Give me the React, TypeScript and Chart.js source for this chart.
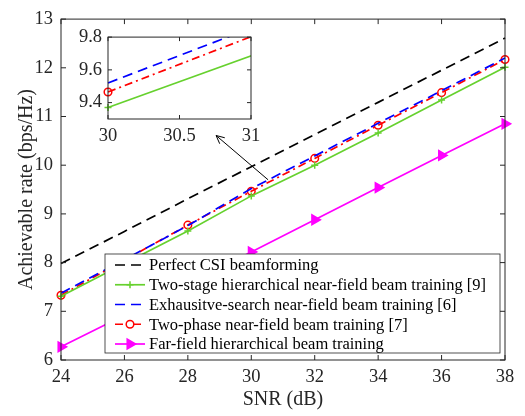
import React, { useEffect, useRef } from 'react';
import { Chart, registerables } from 'chart.js';

Chart.register(...registerables);

// ---------------- data ----------------
const SNR_DB = [24, 26, 28, 30, 32, 34, 36, 38];
const PERFECT_CSI = [7.98, 8.64, 9.31, 9.97, 10.63, 11.29, 11.95, 12.61];
const TWO_STAGE = [7.31, 7.98, 8.65, 9.37, 10.0, 10.66, 11.34, 12.01];
const EXHAUSTIVE = [7.37, 8.06, 8.76, 9.52, 10.19, 10.86, 11.53, 12.2];
const TWO_PHASE = [7.33, 8.05, 8.77, 9.465, 10.14, 10.82, 11.49, 12.17];
const FAR_FIELD = [6.27, 6.92, 7.57, 8.22, 8.88, 9.54, 10.2, 10.85];

const SERIES_LABELS = [
  'Perfect CSI beamforming',
  'Two-stage hierarchical near-field beam training [9]',
  'Exhausitve-search near-field beam training [6]',
  'Two-phase near-field beam training [7]',
  'Far-field hierarchical beam training',
];
const SERIES_VALUES = [PERFECT_CSI, TWO_STAGE, EXHAUSTIVE, TWO_PHASE, FAR_FIELD];

const X_RANGE = [24, 38];
const Y_RANGE = [6, 13];
const X_TICKS = [24, 26, 28, 30, 32, 34, 36, 38];
const Y_TICKS = [6, 7, 8, 9, 10, 11, 12, 13];

const INSET_X_RANGE = [30, 31];
const INSET_Y_RANGE = [9.3, 9.8];
const INSET_X_TICKS = [30, 30.5, 31];
const INSET_Y_TICKS = [9.4, 9.6, 9.8];

const ARROW_FROM = [30.53, 9.7];
const ARROW_TO = [28.89, 10.61];

const X_TITLE = 'SNR (dB)';
const Y_TITLE = 'Achievable rate (bps/Hz)';

// ---------------- styles ----------------
const FONT = 'Liberation Serif';
const AXIS_COLOR = '#262626';

type Style = {
  color: string;
  dash: number[];
  marker: null | 'cross' | 'circle' | 'triangle';
  radius: number;
  fill: string;
};

const STYLES: Style[] = [
  { color: '#000000', dash: [10, 6], marker: null, radius: 0, fill: 'transparent' },
  { color: '#66d12e', dash: [], marker: 'cross', radius: 3.5, fill: 'transparent' },
  { color: '#0000ff', dash: [10, 6], marker: null, radius: 0, fill: 'transparent' },
  { color: '#ff0000', dash: [8, 4, 2, 4], marker: 'circle', radius: 3.8, fill: 'transparent' },
  { color: '#ff00ff', dash: [], marker: 'triangle', radius: 5.6, fill: '#ff00ff' },
];

function buildDatasets(minX: number, clip: any) {
  return SERIES_VALUES.map((vals, i) => {
    const st = STYLES[i];
    return {
      label: SERIES_LABELS[i],
      data: SNR_DB.map((x, j) => ({ x, y: vals[j] })).filter((p) => p.x >= minX),
      borderColor: st.color,
      backgroundColor: st.fill,
      borderWidth: 1.7,
      borderDash: st.dash,
      pointStyle: st.marker === null ? false : st.marker,
      pointRadius: st.radius,
      pointHoverRadius: st.radius,
      pointBorderWidth: 1.5,
      pointBorderColor: st.color,
      pointBackgroundColor: st.fill,
      pointRotation: st.marker === 'triangle' ? 90 : 0,
      tension: 0,
      fill: false,
      clip,
    } as any;
  });
}

function makeBoxPlugin(tickLen: number, whiteBg: boolean) {
  return {
    id: 'matlabBox',
    beforeDatasetsDraw(chart: any) {
      if (!whiteBg) return;
      const { ctx, chartArea: a } = chart;
      ctx.save();
      ctx.fillStyle = '#ffffff';
      ctx.fillRect(a.left, a.top, a.right - a.left, a.bottom - a.top);
      ctx.restore();
    },
    afterDatasetsDraw(chart: any) {
      const { ctx, chartArea: a, scales } = chart;
      ctx.save();
      ctx.strokeStyle = AXIS_COLOR;
      ctx.lineWidth = 1;
      ctx.setLineDash([]);
      ctx.strokeRect(a.left, a.top, a.right - a.left, a.bottom - a.top);
      ctx.beginPath();
      for (const t of scales.x.ticks) {
        const px = scales.x.getPixelForValue(t.value);
        ctx.moveTo(px, a.bottom);
        ctx.lineTo(px, a.bottom - tickLen);
        ctx.moveTo(px, a.top);
        ctx.lineTo(px, a.top + tickLen);
      }
      for (const t of scales.y.ticks) {
        const py = scales.y.getPixelForValue(t.value);
        ctx.moveTo(a.left, py);
        ctx.lineTo(a.left + tickLen, py);
        ctx.moveTo(a.right, py);
        ctx.lineTo(a.right - tickLen, py);
      }
      ctx.stroke();
      ctx.restore();
    },
  };
}

function drawMarker(ctx: CanvasRenderingContext2D, st: Style, x: number, y: number) {
  if (!st.marker) return;
  const r = st.radius;
  ctx.save();
  ctx.setLineDash([]);
  ctx.strokeStyle = st.color;
  ctx.fillStyle = st.fill;
  ctx.lineWidth = 1.5;
  ctx.beginPath();
  if (st.marker === 'cross') {
    ctx.moveTo(x - r, y);
    ctx.lineTo(x + r, y);
    ctx.moveTo(x, y - r);
    ctx.lineTo(x, y + r);
    ctx.stroke();
  } else if (st.marker === 'circle') {
    ctx.arc(x, y, r, 0, Math.PI * 2);
    ctx.fillStyle = '#ffffff';
    ctx.fill();
    ctx.stroke();
  } else {
    let rad = Math.PI / 2;
    ctx.moveTo(x + Math.sin(rad) * r, y - Math.cos(rad) * r);
    rad += (2 * Math.PI) / 3;
    ctx.lineTo(x + Math.sin(rad) * r, y - Math.cos(rad) * r);
    rad += (2 * Math.PI) / 3;
    ctx.lineTo(x + Math.sin(rad) * r, y - Math.cos(rad) * r);
    ctx.closePath();
    ctx.fill();
    ctx.stroke();
  }
  ctx.restore();
}

const legendPlugin = {
  id: 'matlabLegend',
  afterDraw(chart: any) {
    const { ctx, chartArea: a, scales } = chart;
    // arrow
    const x0 = scales.x.getPixelForValue(ARROW_FROM[0]);
    const y0 = scales.y.getPixelForValue(ARROW_FROM[1]);
    const x1 = scales.x.getPixelForValue(ARROW_TO[0]);
    const y1 = scales.y.getPixelForValue(ARROW_TO[1]);
    ctx.save();
    ctx.strokeStyle = '#000000';
    ctx.lineWidth = 1;
    ctx.setLineDash([]);
    ctx.beginPath();
    ctx.moveTo(x0, y0);
    ctx.lineTo(x1, y1);
    const ang = Math.atan2(y1 - y0, x1 - x0);
    const hl = 9;
    const hw = 0.45;
    ctx.moveTo(x1 - hl * Math.cos(ang - hw), y1 - hl * Math.sin(ang - hw));
    ctx.lineTo(x1, y1);
    ctx.lineTo(x1 - hl * Math.cos(ang + hw), y1 - hl * Math.sin(ang + hw));
    ctx.stroke();
    ctx.restore();

    // legend box
    const boxW = 395;
    const boxH = 99;
    const left = a.right - 5 - boxW;
    const top = a.bottom - 7 - boxH;
    ctx.save();
    ctx.fillStyle = '#ffffff';
    ctx.fillRect(left, top, boxW, boxH);
    ctx.strokeStyle = AXIS_COLOR;
    ctx.lineWidth = 0.8;
    ctx.strokeRect(left, top, boxW, boxH);
    ctx.font = `16.5px "${FONT}"`;
    ctx.textBaseline = 'middle';
    ctx.textAlign = 'left';
    const rowH = 19.75;
    SERIES_LABELS.forEach((lab, i) => {
      const st = STYLES[i];
      const cy = top + 11 + i * rowH;
      ctx.save();
      ctx.strokeStyle = st.color;
      ctx.lineWidth = 1.7;
      ctx.setLineDash(st.dash);
      ctx.beginPath();
      ctx.moveTo(left + 10, cy);
      ctx.lineTo(left + 40, cy);
      ctx.stroke();
      ctx.restore();
      drawMarker(ctx, st, left + 25, cy);
      ctx.fillStyle = '#000000';
      ctx.fillText(lab, left + 44, cy + 1);
    });
    ctx.restore();
  },
};

const plainTick = (v: any) => String(v);

export default function App() {
  const mainRef = useRef<HTMLCanvasElement>(null);
  const insetRef = useRef<HTMLCanvasElement>(null);

  useEffect(() => {
    const main = new Chart(mainRef.current as HTMLCanvasElement, {
      type: 'line',
      data: { datasets: buildDatasets(X_RANGE[0], false) },
      options: {
        animation: false,
        responsive: false,
        layout: { padding: { top: 14, right: 20, left: 0, bottom: 0 } },
        plugins: { legend: { display: false }, tooltip: { enabled: false } },
        scales: {
          x: {
            type: 'linear',
            min: X_RANGE[0],
            max: X_RANGE[1],
            afterBuildTicks: (s: any) => {
              s.ticks = X_TICKS.map((v) => ({ value: v }));
            },
            afterFit: (s: any) => {
              s.height = 56;
            },
            grid: { display: false, drawTicks: false },
            border: { display: false },
            ticks: {
              autoSkip: false,
              maxRotation: 0,
              padding: 6,
              color: AXIS_COLOR,
              font: { family: FONT, size: 18.5 },
              callback: plainTick,
            },
            title: {
              display: true,
              text: X_TITLE,
              color: AXIS_COLOR,
              font: { family: FONT, size: 20 },
              padding: { top: 0, bottom: 4 },
            },
          },
          y: {
            type: 'linear',
            min: Y_RANGE[0],
            max: Y_RANGE[1],
            afterBuildTicks: (s: any) => {
              s.ticks = Y_TICKS.map((v) => ({ value: v }));
            },
            afterFit: (s: any) => {
              s.width = 61;
            },
            grid: { display: false, drawTicks: false },
            border: { display: false },
            ticks: {
              padding: 8,
              color: AXIS_COLOR,
              font: { family: FONT, size: 18.5 },
              callback: plainTick,
            },
            title: {
              display: true,
              text: Y_TITLE,
              color: AXIS_COLOR,
              font: { family: FONT, size: 20 },
              padding: { top: 15, bottom: 0 },
            },
          },
        },
      } as any,
      plugins: [makeBoxPlugin(5, false), legendPlugin],
    });

    const inset = new Chart(insetRef.current as HTMLCanvasElement, {
      type: 'line',
      data: { datasets: buildDatasets(INSET_X_RANGE[0], { left: 8, top: 0, right: 0, bottom: 0 }) },
      options: {
        animation: false,
        responsive: false,
        layout: { padding: { top: 13, right: 29, left: 0, bottom: 0 } },
        plugins: { legend: { display: false }, tooltip: { enabled: false } },
        scales: {
          x: {
            type: 'linear',
            min: INSET_X_RANGE[0],
            max: INSET_X_RANGE[1],
            afterBuildTicks: (s: any) => {
              s.ticks = INSET_X_TICKS.map((v) => ({ value: v }));
            },
            afterFit: (s: any) => {
              s.height = 26;
            },
            grid: { display: false, drawTicks: false },
            border: { display: false },
            ticks: {
              autoSkip: false,
              maxRotation: 0,
              padding: 6,
              color: AXIS_COLOR,
              font: { family: FONT, size: 18.5 },
              callback: plainTick,
            },
          },
          y: {
            type: 'linear',
            min: INSET_Y_RANGE[0],
            max: INSET_Y_RANGE[1],
            afterBuildTicks: (s: any) => {
              s.ticks = INSET_Y_TICKS.map((v) => ({ value: v }));
            },
            afterFit: (s: any) => {
              s.width = 48;
            },
            grid: { display: false, drawTicks: false },
            border: { display: false },
            ticks: {
              padding: 6,
              color: AXIS_COLOR,
              font: { family: FONT, size: 18.5 },
              callback: plainTick,
            },
          },
        },
      } as any,
      plugins: [makeBoxPlugin(4, true)],
    });

    return () => {
      main.destroy();
      inset.destroy();
    };
  }, []);

  return (
    <div style={{ position: 'fixed', left: 0, top: 0, width: 525, height: 416, background: '#ffffff' }}>
      <canvas
        ref={mainRef}
        width={525}
        height={416}
        style={{ position: 'absolute', left: 0, top: 0, width: 525, height: 416 }}
      />
      <canvas
        ref={insetRef}
        width={220}
        height={125}
        style={{ position: 'absolute', left: 60, top: 20, width: 220, height: 125 }}
      />
    </div>
  );
}
